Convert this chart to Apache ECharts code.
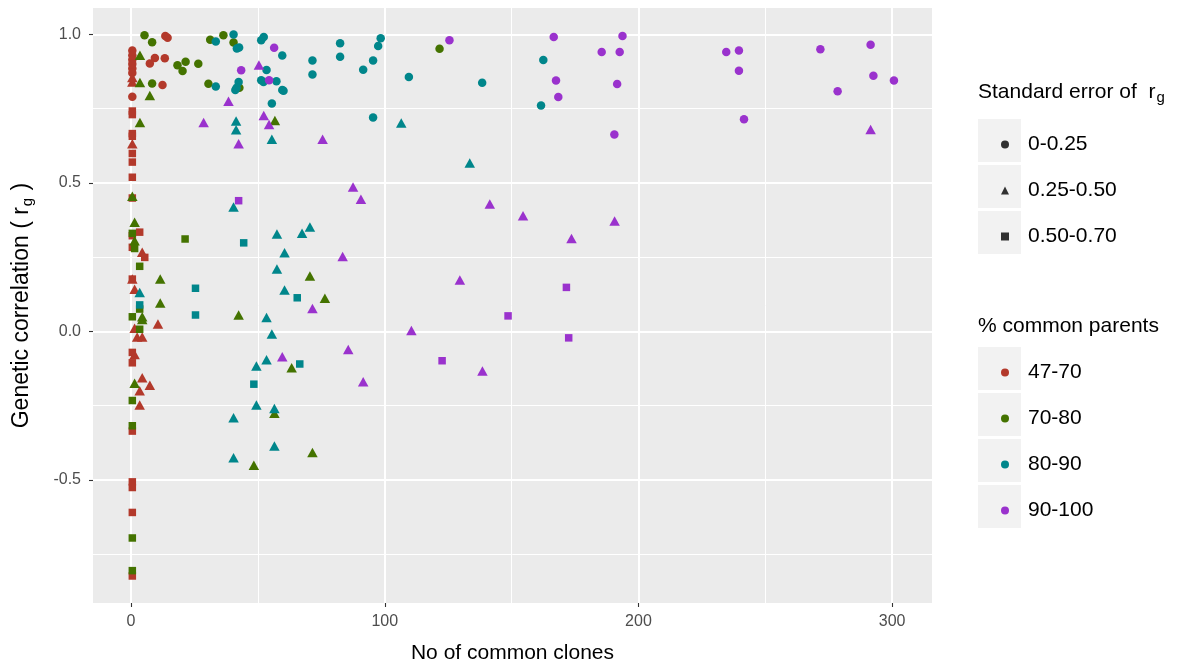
<!DOCTYPE html>
<html>
<head>
<meta charset="utf-8">
<script src="https://cdn.jsdelivr.net/npm/echarts@6/dist/echarts.min.js"></script>
<style>
  html, body { margin: 0; padding: 0; background: #ffffff; }
  #chart { width: 1184px; height: 666px; }
</style>
</head>
<body>
<div id="chart"></div>
<script>
// Legend groups
const seGroups = ['0-0.25', '0.25-0.50', '0.50-0.70'];
const parentGroups = ['47-70', '70-80', '80-90', '90-100'];
const parentColors = ['#b3392b', '#447300', '#00868b', '#9a32cd'];
const seShapes = ['circle', 'triangle', 'rect'];

// Axis ticks
const xTicks = [0, 100, 200, 300];
const xMinorTicks = [50, 150, 250];
const yTicks = [-0.5, 0, 0.5, 1.0];
const yMinorTicks = [-0.75, -0.25, 0.25, 0.75];

// Points: [no of common clones, genetic correlation, standard-error class]
const pts4770 = [
  [13.5, 0.995, 0], [14.4, 0.989, 0], [0.5, 0.946, 0], [9.4, 0.921, 0], [7.4, 0.902, 0],
  [13.3, 0.920, 0], [12.4, 0.830, 0], [0.5, 0.790, 0], [0.5, 0.930, 0], [0.5, 0.915, 0],
  [0.5, 0.900, 0], [0.5, 0.885, 0], [0.5, 0.870, 0],
  [0.5, 0.840, 1], [0.5, 0.632, 1], [4.4, 0.266, 1], [1.4, 0.142, 1], [10.6, 0.025, 1],
  [1.4, 0.010, 1], [2.4, -0.019, 1], [4.4, -0.019, 1], [1.4, -0.078, 1], [4.4, -0.156, 1],
  [7.4, -0.182, 1], [3.4, -0.200, 1], [3.4, -0.248, 1], [0.5, 0.176, 1], [0.5, 0.855, 1],
  [0.5, 0.742, 2], [0.5, 0.730, 2], [0.5, 0.666, 2], [0.5, 0.657, 2], [0.5, 0.599, 2],
  [0.5, 0.570, 2], [0.5, 0.519, 2], [0.5, 0.449, 2], [3.4, 0.334, 2], [0.5, 0.322, 2],
  [0.5, 0.283, 2], [5.4, 0.249, 2], [0.5, 0.176, 2], [0.5, -0.071, 2], [0.5, -0.106, 2],
  [0.5, -0.336, 2], [0.5, -0.507, 2], [0.5, -0.526, 2], [0.5, -0.610, 2], [0.5, -0.824, 2]
];
const pts7080 = [
  [5.3, 0.997, 0], [8.3, 0.974, 0], [36.4, 0.997, 0], [31.2, 0.982, 0], [40.4, 0.973, 0],
  [18.3, 0.896, 0], [21.5, 0.908, 0], [20.3, 0.877, 0], [26.5, 0.901, 0], [8.3, 0.835, 0],
  [30.5, 0.834, 0], [42.7, 0.820, 0], [121.6, 0.952, 0],
  [3.5, 0.930, 1], [3.5, 0.838, 1], [7.4, 0.794, 1], [3.5, 0.703, 1], [56.7, 0.710, 1],
  [0.5, 0.455, 1], [1.4, 0.367, 1], [1.4, 0.305, 1], [11.5, 0.176, 1], [11.5, 0.095, 1],
  [42.4, 0.055, 1], [4.4, 0.049, 1], [4.4, 0.040, 1], [70.5, 0.186, 1], [76.4, 0.111, 1],
  [63.3, -0.123, 1], [1.4, -0.175, 1], [56.5, -0.276, 1], [48.4, -0.451, 1], [71.5, -0.408, 1],
  [21.3, 0.311, 2], [1.4, 0.279, 2], [3.4, 0.219, 2], [3.4, 0.075, 2], [0.5, 0.049, 2],
  [3.4, 0.007, 2], [0.5, -0.233, 2], [0.5, -0.318, 2], [0.5, -0.696, 2], [0.5, -0.806, 2],
  [0.5, 0.330, 2]
];
const pts8090 = [
  [40.4, 1.000, 0], [33.4, 0.976, 0], [41.7, 0.953, 0], [42.6, 0.956, 0], [51.3, 0.980, 0],
  [52.3, 0.991, 0], [59.6, 0.929, 0], [53.4, 0.880, 0], [51.3, 0.846, 0], [52.2, 0.840, 0],
  [57.3, 0.842, 0], [60.1, 0.810, 0], [59.6, 0.813, 0], [42.4, 0.840, 0], [41.6, 0.820, 0],
  [41.1, 0.813, 0], [33.4, 0.825, 0], [55.5, 0.767, 0], [71.5, 0.912, 0], [71.5, 0.865, 0],
  [82.4, 0.970, 0], [82.4, 0.925, 0], [91.5, 0.881, 0], [95.4, 0.912, 0], [97.4, 0.961, 0],
  [98.4, 0.987, 0], [109.5, 0.857, 0], [138.4, 0.837, 0], [95.4, 0.720, 0], [162.5, 0.914, 0],
  [161.6, 0.761, 0],
  [41.4, 0.708, 1], [41.4, 0.679, 1], [55.5, 0.647, 1], [40.4, 0.419, 1], [57.5, 0.328, 1],
  [60.5, 0.265, 1], [57.5, 0.210, 1], [3.4, 0.131, 1], [53.4, 0.047, 1], [55.5, -0.009, 1],
  [53.4, -0.096, 1], [49.4, -0.117, 1], [49.4, -0.248, 1], [56.5, -0.260, 1], [40.4, -0.291, 1],
  [56.5, -0.386, 1], [40.4, -0.426, 1], [106.5, 0.702, 1], [133.5, 0.567, 1], [70.5, 0.351, 1],
  [67.4, 0.330, 1], [60.5, 0.139, 1],
  [44.4, 0.298, 2], [25.4, 0.145, 2], [25.4, 0.055, 2], [3.4, 0.089, 2], [48.4, -0.178, 2],
  [65.5, 0.113, 2], [66.5, -0.110, 2]
];
const pts90100 = [
  [56.4, 0.955, 0], [54.4, 0.846, 0], [43.4, 0.879, 0], [125.5, 0.980, 0], [166.6, 0.991, 0],
  [193.7, 0.995, 0], [185.5, 0.941, 0], [192.6, 0.941, 0], [167.5, 0.845, 0], [191.6, 0.833, 0],
  [168.4, 0.789, 0], [190.5, 0.663, 0], [234.6, 0.941, 0], [239.6, 0.946, 0], [239.6, 0.878, 0],
  [241.6, 0.714, 0], [271.7, 0.950, 0], [291.5, 0.965, 0], [292.6, 0.861, 0], [300.7, 0.845, 0],
  [278.5, 0.809, 0],
  [50.4, 0.897, 1], [38.4, 0.775, 1], [28.6, 0.703, 1], [42.4, 0.632, 1], [52.3, 0.727, 1],
  [54.4, 0.697, 1], [75.5, 0.647, 1], [87.5, 0.486, 1], [90.6, 0.445, 1], [141.4, 0.429, 1],
  [83.4, 0.252, 1], [71.5, 0.077, 1], [129.6, 0.173, 1], [110.5, 0.003, 1], [85.6, -0.061, 1],
  [59.6, -0.086, 1], [91.5, -0.170, 1], [138.5, -0.134, 1], [154.5, 0.389, 1], [190.6, 0.372, 1],
  [173.6, 0.313, 1], [291.5, 0.680, 1],
  [42.4, 0.440, 2], [122.6, -0.099, 2], [171.6, 0.148, 2], [148.6, 0.052, 2], [172.5, -0.022, 2]
];
const parentPoints = [pts4770, pts7080, pts8090, pts90100];

const FONT = 'Liberation Sans, Arial, Helvetica, sans-serif';
const symbolSizes = [8.5, [10.5, 9.5], 7.5];

const chart = echarts.init(document.getElementById('chart'), null, { renderer: 'canvas' });

const xRange = { min: -15, max: 315.7 };
const yRange = { min: -0.915, max: 1.089 };

const pointSeries = parentGroups.map((name, i) => ({
  type: 'scatter',
  name: name,
  xAxisIndex: 0,
  yAxisIndex: 0,
  data: parentPoints[i],
  symbol: (v) => seShapes[v[2]],
  symbolSize: (v) => symbolSizes[v[2]],
  itemStyle: { color: parentColors[i], opacity: 1 },
  emphasis: { disabled: true },
  z: 3
}));

// Empty series that only carry the shape legend entries
const shapeSeries = seGroups.map((name, i) => ({
  type: 'scatter',
  name: name,
  data: [],
  symbol: seShapes[i],
  itemStyle: { color: '#000' }
}));

const gridBox = { left: 93, top: 8, width: 839, height: 595 };
const legendBoxes1 = [119, 165, 211];
const legendBoxes2 = [347, 393, 439, 485];

const option = {
  backgroundColor: '#ffffff',
  animation: false,
  grid: Object.assign({
    show: true, backgroundColor: '#ebebeb', borderWidth: 0,
    containLabel: false, outerBoundsMode: 'none'
  }, gridBox),
  xAxis: [
    {
      type: 'value', min: xRange.min, max: xRange.max, position: 'bottom',
      axisLine: { show: false, onZero: false },
      axisTick: { show: true, length: 4, customValues: xTicks, lineStyle: { color: '#333333', width: 1.1 } },
      axisLabel: { customValues: xTicks, color: '#4d4d4d', fontSize: 16, margin: 11, fontFamily: FONT },
      splitLine: { show: true, lineStyle: { color: '#ffffff', width: 2 } },
      name: 'No of common clones', nameLocation: 'middle', nameGap: 40,
      nameTextStyle: { color: '#000', fontSize: 21, fontFamily: FONT }
    },
    {
      type: 'value', min: xRange.min, max: xRange.max, position: 'top',
      axisLine: { show: false, onZero: false },
      axisTick: { show: false, customValues: xMinorTicks },
      axisLabel: { show: false, customValues: xMinorTicks },
      splitLine: { show: true, lineStyle: { color: '#ffffff', width: 1 } }
    }
  ],
  yAxis: [
    {
      type: 'value', min: yRange.min, max: yRange.max, position: 'left',
      axisLine: { show: false, onZero: false },
      axisTick: { show: true, length: 4, customValues: yTicks, lineStyle: { color: '#333333', width: 1.1 } },
      axisLabel: {
        customValues: yTicks, color: '#4d4d4d', fontSize: 16, margin: 12, fontFamily: FONT,
        formatter: (v) => v.toFixed(1)
      },
      splitLine: { show: true, lineStyle: { color: '#ffffff', width: 2 } },
      name: '{a|Genetic correlation ( r}{s|g}{a| )}',
      nameLocation: 'middle', nameGap: 58, nameRotate: 90,
      nameTextStyle: {
        color: '#000', fontFamily: FONT,
        rich: {
          a: { fontSize: 23, fontFamily: FONT, color: '#000', lineHeight: 26, verticalAlign: 'middle' },
          s: { fontSize: 15, fontFamily: FONT, color: '#000', lineHeight: 15, verticalAlign: 'bottom', padding: [11, 1, 0, 1] }
        }
      }
    },
    {
      type: 'value', min: yRange.min, max: yRange.max, position: 'right',
      axisLine: { show: false, onZero: false },
      axisTick: { show: false, customValues: yMinorTicks },
      axisLabel: { show: false, customValues: yMinorTicks },
      splitLine: { show: true, lineStyle: { color: '#ffffff', width: 1 } }
    }
  ],
  legend: [
    {
      orient: 'vertical', left: 996, top: 129,
      itemWidth: 8, itemHeight: 8, itemGap: 25, selectedMode: false,
      data: seGroups.map((n, i) => ({ name: n, icon: seShapes[i] })),
      itemStyle: { color: '#000' },
      textStyle: { color: '#000', fontSize: 21, fontFamily: FONT, lineHeight: 21, padding: [0, 0, 0, 14] }
    },
    {
      orient: 'vertical', left: 996, top: 357,
      itemWidth: 8, itemHeight: 8, itemGap: 25, selectedMode: false,
      data: parentGroups.map((n) => ({ name: n, icon: 'circle' })),
      textStyle: { color: '#000', fontSize: 21, fontFamily: FONT, lineHeight: 21, padding: [0, 0, 0, 14] }
    }
  ],
  graphic: [
    ...legendBoxes1.map((y) => ({
      type: 'rect', left: 978, top: y, z: -1, silent: true,
      shape: { width: 43, height: 43 }, style: { fill: '#f2f2f2' }
    })),
    ...legendBoxes2.map((y) => ({
      type: 'rect', left: 978, top: y, z: -1, silent: true,
      shape: { width: 43, height: 43 }, style: { fill: '#f2f2f2' }
    })),
    {
      type: 'text', left: 978, top: 80, silent: true,
      style: {
        text: '{a|Standard error of  r}{s|g}',
        rich: {
          a: { fontSize: 21, fontFamily: FONT, fill: '#000', lineHeight: 25, verticalAlign: 'middle' },
          s: { fontSize: 15, fontFamily: FONT, fill: '#000', lineHeight: 15, verticalAlign: 'bottom', padding: [10, 0, 0, 1] }
        }
      }
    },
    {
      type: 'text', left: 978, top: 316, silent: true,
      style: { text: '% common parents', fontSize: 21, fontFamily: FONT, fill: '#000' }
    }
  ],
  series: [...pointSeries, ...shapeSeries]
};

chart.setOption(option);
</script>
</body>
</html>
